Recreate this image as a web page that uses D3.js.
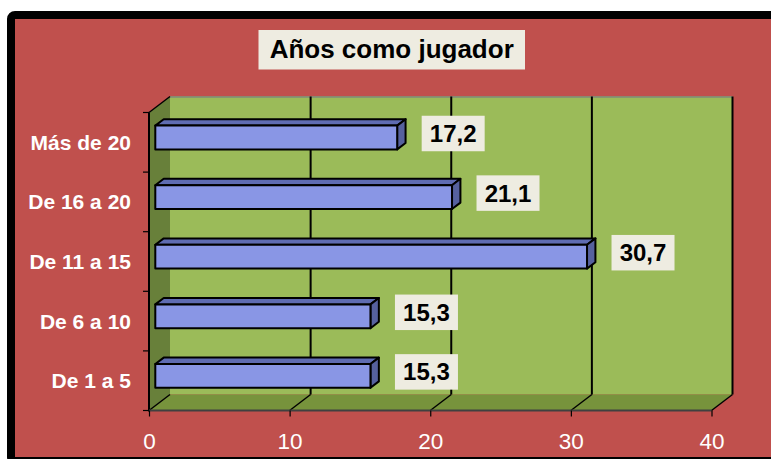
<!DOCTYPE html>
<html>
<head>
<meta charset="utf-8">
<script src="https://cdn.jsdelivr.net/npm/d3@7"></script>
<style>
  html, body { margin: 0; padding: 0; background: #ffffff; }
  svg { display: block; }
</style>
</head>
<body>
<script>
// ---- data ----
const title = "Años como jugador";
const categories = ["Más de 20", "De 16 a 20", "De 11 a 15", "De 6 a 10", "De 1 a 5"];
const values = [17.2, 21.1, 30.7, 15.3, 15.3];
const xTicks = [0, 10, 20, 30, 40];

// ---- layout ----
const W = 771, H = 459;
const svg = d3.select("body").append("svg").attr("width", W).attr("height", H);
const font = "'Liberation Sans', Arial, Helvetica, sans-serif";

// frame
svg.append("rect").attr("x", 11).attr("y", 15).attr("width", 790).attr("height", 446)
  .attr("rx", 4).attr("fill", "#C0504D").attr("stroke", "#000").attr("stroke-width", 8);

// title
svg.append("rect").attr("x", 258.5).attr("y", 30).attr("width", 266.5).attr("height", 39.5)
  .attr("fill", "#EEECE1");
svg.append("text").attr("x", 391.7).attr("y", 58.3).attr("text-anchor", "middle")
  .attr("font-family", font).attr("font-weight", "bold").attr("font-size", 26)
  .attr("fill", "#000").text(title);

// scales (front plane)
const x = d3.scaleLinear().domain([0, 40]).range([149, 711.5]);
const y = d3.scaleBand().domain(categories).range([112.5, 410.5])
  .paddingInner(0.6).paddingOuter(0.3);
const DX = 21, DY = -16;          // depth of the 3-D box
const fF = 0.3, fB = 0.7;         // bar front / back depth fraction

const yTop = y.range()[0], yBot = y.range()[1];
const xL = x(0), xR = x(40);

// back wall
svg.append("rect").attr("x", xL + DX).attr("y", yTop + DY)
  .attr("width", xR - xL).attr("height", yBot - yTop).attr("fill", "#9BBB59");
svg.append("line").attr("x1", xL + DX).attr("x2", xR + DX)
  .attr("y1", yTop + DY + 0.5).attr("y2", yTop + DY + 0.5)
  .attr("stroke", "#7f8a7a").attr("stroke-width", 1.5);

// side wall
svg.append("polygon").attr("points", [
  [xL, yTop], [xL + DX, yTop + DY], [xL + DX, yBot + DY], [xL, yBot]
].map(p => p.join(",")).join(" ")).attr("fill", "#68803A");

// floor
svg.append("polygon").attr("points", [
  [xL, yBot], [xL + DX, yBot + DY], [xR + DX, yBot + DY], [xR, yBot]
].map(p => p.join(",")).join(" ")).attr("fill", "#77933C");

// gridlines (floor diagonals + back-wall verticals)
const grid = svg.append("g").attr("stroke", "#000").attr("stroke-width", 2).attr("fill", "none");
xTicks.forEach(v => {
  grid.append("line").attr("x1", x(v)).attr("y1", yBot).attr("x2", x(v) + DX).attr("y2", yBot + DY)
    .attr("stroke-width", 1.5);
  if (v > 0) {
    grid.append("line").attr("x1", x(v) + DX).attr("y1", yBot + DY)
      .attr("x2", x(v) + DX).attr("y2", yTop + DY);
  }
});
// side wall top edge and left axis line
grid.append("line").attr("x1", xL).attr("y1", yTop).attr("x2", xL + DX).attr("y2", yTop + DY)
  .attr("stroke-width", 1.5);
grid.append("line").attr("x1", xL).attr("y1", yTop).attr("x2", xL).attr("y2", yBot + 1);
// floor front edge
svg.append("line").attr("x1", xL).attr("x2", xR).attr("y1", yBot).attr("y2", yBot)
  .attr("stroke", "#404040").attr("stroke-width", 2);

// category boundary ticks
const step = y.step();
d3.range(categories.length + 1).forEach(i => {
  svg.append("line").attr("x1", xL - 6).attr("x2", xL)
    .attr("y1", yTop + i * step).attr("y2", yTop + i * step)
    .attr("stroke", "#000").attr("stroke-width", 1.2);
});

// category labels
svg.append("g").selectAll("text").data(categories).join("text")
  .attr("x", 131).attr("y", d => y(d) + y.bandwidth() / 2 + 7.5)
  .attr("text-anchor", "end").attr("font-family", font).attr("font-weight", "bold")
  .attr("font-size", 21).attr("fill", "#fff").text(d => d);

// bottom axis
const xAxis = d3.axisBottom(x).tickValues(xTicks).tickSize(6).tickPadding(16.5)
  .tickFormat(d3.format("d"));
const ax = svg.append("g").attr("transform", `translate(0,${yBot})`).call(xAxis);
ax.select(".domain").remove();
ax.selectAll(".tick line").attr("stroke", "#000").attr("stroke-width", 1.2);
ax.selectAll(".tick text").attr("fill", "#fff").attr("font-family", font)
  .attr("font-size", 22.5);

// bars
const fx = DX * fF, fy = DY * fF;
const bdx = DX * (fB - fF), bdy = DY * (fB - fF);
const bars = svg.append("g");
categories.forEach((c, i) => {
  const x0 = x(0) + fx, x1 = x(values[i]) + fx;
  const t = y(c) + fy, b = t + y.bandwidth();
  const g = bars.append("g").attr("stroke", "#000").attr("stroke-width", 2)
    .attr("stroke-linejoin", "round");
  g.append("polygon").attr("points", [[x0, t], [x1, t], [x1 + bdx, t + bdy], [x0 + bdx, t + bdy]]
    .map(p => p.join(",")).join(" ")).attr("fill", "#5F6CB2");
  g.append("polygon").attr("points", [[x1, t], [x1 + bdx, t + bdy], [x1 + bdx, b + bdy], [x1, b]]
    .map(p => p.join(",")).join(" ")).attr("fill", "#56619E");
  g.append("rect").attr("x", x0).attr("y", t).attr("width", x1 - x0).attr("height", b - t)
    .attr("fill", "#8996E5");
});

// data labels
const fmt = v => d3.format(".1f")(v).replace(".", ",");
categories.forEach((c, i) => {
  const cx = x(values[i]) + fx + 56;
  const cy = y(c) + fy + y.bandwidth() / 2 - 4;
  svg.append("rect").attr("x", cx - 31.5).attr("y", cy - 17.75).attr("width", 63).attr("height", 35.5)
    .attr("fill", "#EEECE1");
  svg.append("text").attr("x", cx).attr("y", cy + 8.5).attr("text-anchor", "middle")
    .attr("font-family", font).attr("font-weight", "bold").attr("font-size", 24)
    .attr("fill", "#000").text(fmt(values[i]));
});
</script>
</body>
</html>
